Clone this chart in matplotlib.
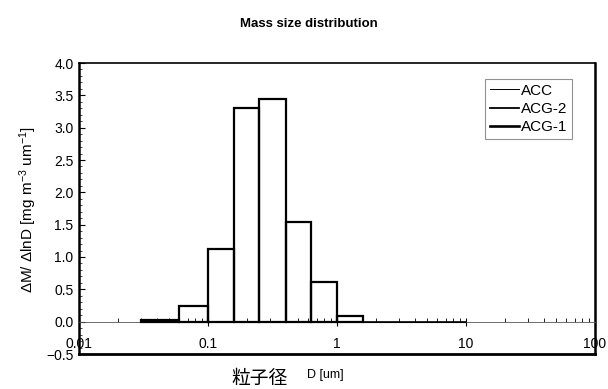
import matplotlib
matplotlib.use("Agg")
import matplotlib.pyplot as plt
from matplotlib.ticker import FixedLocator, NullFormatter, LogLocator
import numpy as np

plt.rcParams['font.family'] = ['Liberation Sans', 'Noto Sans CJK JP', 'DejaVu Sans']
plt.rcParams['mathtext.default'] = 'regular'

# Bin edges (um) and values (mg m^-3 um^-1)
bin_edges = [0.03, 0.06, 0.1, 0.16, 0.25, 0.4, 0.63, 1.0, 1.6]
acg1 = [0.03, 0.24, 1.12, 3.31, 3.44, 1.54, 0.61, 0.09]
tail_edges = [1.6, 2.5, 4.0, 6.3, 10.0]
acg2_tail = [0.0, 0.0, 0.0, 0.0]
acc_tail = [0.0, 0.0, 0.0, 0.0]

x_ticks = [0.01, 0.1, 1, 10, 100]
x_tick_labels = ['0.01', '0.1', '1', '10', '100']
y_ticks = [-0.5, 0.0, 0.5, 1.0, 1.5, 2.0, 2.5, 3.0, 3.5, 4.0]

W, H = 608, 389
fig = plt.figure(figsize=(W/100, H/100), dpi=100)
L, R, T, B = 79, 595, 63, 354
ax = fig.add_axes([L/W, 1-B/H, (R-L)/W, (B-T)/H])
ax.set_xscale('log')
ax.set_xlim(0.01, 100)
ax.set_ylim(-0.5, 4.0)

left = np.array(bin_edges[:-1])
right = np.array(bin_edges[1:])
ax.bar(left, acg1, width=right-left, align='edge', fill=False,
       edgecolor='black', linewidth=1.6, zorder=3)
ax.stairs(acc_tail, tail_edges, color='black', linewidth=0.8, baseline=None, zorder=3)
ax.stairs(acg2_tail, tail_edges, color='black', linewidth=1.2, baseline=None, zorder=3)

# legend proxies
ax.plot([], [], color='black', lw=0.7, label='ACC')
ax.plot([], [], color='black', lw=1.3, label='ACG-2')
ax.plot([], [], color='black', lw=1.9, label='ACG-1')
leg = ax.legend(loc='upper right', bbox_to_anchor=((572-L)/(R-L), (B-79)/(B-T)),
                fontsize=11, frameon=True, fancybox=False, handlelength=1.9,
                handletextpad=0.15, borderpad=0.3, labelspacing=0.28,
                borderaxespad=0)
leg.get_frame().set_edgecolor('#777777')
leg.get_frame().set_linewidth(0.8)

# spines: bottom spine moved to y=0 (thin), frame drawn separately
ax.spines['left'].set_linewidth(1.8)
ax.spines['right'].set_linewidth(1.8)
ax.spines['top'].set_linewidth(1.2)
ax.spines['bottom'].set_position(('data', 0))
ax.spines['bottom'].set_linewidth(0.6)
ax.spines['bottom'].set_color('#555555')
ax.plot([0, 1], [0, 0], transform=ax.transAxes, color='black', lw=2.0, clip_on=False)

ax.xaxis.set_major_locator(FixedLocator(x_ticks))
ax.set_xticklabels(x_tick_labels)
ax.xaxis.set_minor_locator(LogLocator(base=10, subs=np.arange(2, 10)))
ax.xaxis.set_minor_formatter(NullFormatter())
ax.tick_params(axis='x', which='major', direction='inout', length=6, width=0.8,
               labelsize=10, pad=8)
ax.tick_params(axis='x', which='minor', direction='in', length=3, width=0.6)

ax.set_yticks(y_ticks)
ax.set_yticklabels(['−0.5'] + [f'{v:.1f}' for v in y_ticks[1:]])
ax.yaxis.set_minor_locator(FixedLocator(np.arange(-0.5, 4.01, 0.1)))
ax.tick_params(axis='y', which='major', direction='in', length=4, width=0.8,
               labelsize=10, pad=4)
ax.tick_params(axis='y', which='minor', direction='in', length=2, width=0.5)

fig.text(309/W, 1-27/H, 'Mass size distribution', ha='center', va='baseline',
         fontsize=9.5, fontweight='bold')
fig.text(28/W, 1-209/H, 'ΔM/ ΔlnD [mg m$^{-3}$ um$^{-1}$]', rotation=90,
         ha='center', va='center', fontsize=11)
fig.text(260/W, 1-378/H, '粒子径', ha='center', va='center', fontsize=13.5,
         family=['Noto Sans CJK JP'])
fig.text(325/W, 1-375/H, 'D [um]', ha='center', va='center', fontsize=9)

fig.savefig('out.png', dpi=100)
